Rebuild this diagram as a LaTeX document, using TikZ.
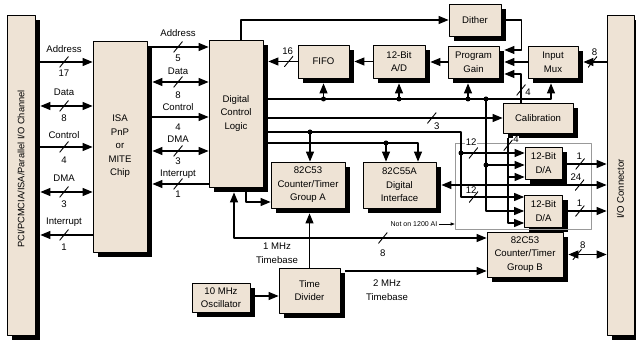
\documentclass[tikz,border=0pt]{standalone}
\usepackage{fontspec}
\setmainfont{Liberation Sans}
\usetikzlibrary{arrows.meta,backgrounds}
\definecolor{boxfill}{RGB}{238,227,213}
\tikzset{
  blk/.style={draw=black,fill=boxfill,line width=0.8bp,align=center,inner sep=0pt,
    font=\fontsize{9.6bp}{13.5bp}\selectfont},
  lbl/.style={font=\fontsize{9.6bp}{14bp}\selectfont,inner sep=0.5bp,align=center},
  busmark/.style={inner sep=0pt,minimum width=9bp,minimum height=11bp,
    path picture={\draw[-,black,shorten >=0pt,shorten <=0pt,line width=0.9bp]
      (path picture bounding box.south west) -- (path picture bounding box.north east);}},
  jdot/.style={circle,fill=black,inner sep=0pt,minimum size=5bp},
  shadowend/.style={shorten >=5bp},
  shadowstart/.style={shorten <=5bp},
}
\begin{document}
\begin{tikzpicture}[>={Triangle[length=10bp,width=8bp]},line join=bevel,line width=1.1bp]
\useasboundingbox (0bp,0bp) rectangle (636bp,340bp);
%%
\node (node_opt) at (523bp,154bp) [draw=black!40,line width=0.6bp,minimum width=136bp,minimum height=86bp,inner sep=0pt] {};
\node (node_pci) at (21bp,165bp) [blk,minimum width=28bp,minimum height=320bp] {};
\node (node_pcitxt) at (21bp,171bp) [lbl,rotate=90,font=\fontsize{9.3bp}{11bp}\selectfont] {PCI/PCMCIA/ISA/Parallel I/O Channel};
\node (node_conn) at (620.5bp,165bp) [blk,minimum width=27bp,minimum height=320bp] {};
\node (node_conntxt) at (620.5bp,151bp) [lbl,rotate=90] {I/O Connector};
\node (node_isa) at (120bp,193.5bp) [blk,minimum width=54bp,minimum height=211bp] {ISA\\PnP\\or\\MITE\\Chip};
\node (node_dcl) at (236bp,226.5bp) [blk,minimum width=54bp,minimum height=147bp] {Digital\\Control\\Logic};
\node (node_fifo) at (323.5bp,278.5bp) [blk,minimum width=51bp,minimum height=33bp] {FIFO};
\node (node_adc) at (399bp,278.5bp) [blk,minimum width=52bp,minimum height=33bp] {12-Bit\\A/D};
\node (node_dither) at (475bp,320bp) [blk,minimum width=52bp,minimum height=32bp] {Dither};
\node (node_pga) at (473.5bp,278bp) [blk,minimum width=51bp,minimum height=32bp] {Program\\Gain};
\node (node_mux) at (553bp,278bp) [blk,minimum width=50bp,minimum height=32bp] {Input\\Mux};
\node (node_cal) at (538bp,222bp) [blk,minimum width=70bp,minimum height=30bp] {Calibration};
\node (node_dac1) at (543.5bp,177bp) [blk,minimum width=37bp,minimum height=32bp] {12-Bit\\D/A};
\node (node_dac2) at (543.5bp,129bp) [blk,minimum width=38bp,minimum height=32bp] {12-Bit\\D/A};
\node (node_ctrb) at (525bp,85.5bp) [blk,minimum width=76bp,minimum height=45bp] {82C53\\Counter/Timer\\Group B};
\node (node_ctra) at (308bp,155bp) [blk,minimum width=74bp,minimum height=46bp] {82C53\\Counter/Timer\\Group A};
\node (node_ppi) at (399.5bp,155bp) [blk,minimum width=73bp,minimum height=46bp] {82C55A\\Digital\\Interface};
\node (node_div) at (309.5bp,49.5bp) [blk,minimum width=61bp,minimum height=45bp] {Time\\Divider};
\node (node_osc) at (221bp,42.5bp) [blk,minimum width=58bp,minimum height=29bp] {10 MHz\\Oscillator};
% shadows
\begin{scope}[on background layer]
\foreach \n in {node_pci,node_conn,node_isa,node_dcl,node_fifo,node_adc,node_dither,node_pga,node_mux,node_cal,node_dac1,node_dac2,node_ctrb,node_ctra,node_ppi,node_div,node_osc}
  \fill [black] ([shift={(5bp,-5bp)}]\n.south west) rectangle ([shift={(5bp,-5bp)}]\n.north east);
\end{scope}
%
\draw [black,->,shadowstart] (node_pci.east |- 0,278bp) -- node[busmark]{} node[lbl,yshift=13bp]{Address} node[lbl,yshift=-11bp]{17} (node_isa.west |- 0,278bp);
\draw [black,<->,shadowstart] (node_pci.east |- 0,234bp) -- node[busmark]{} node[lbl,yshift=14bp]{Data} node[lbl,yshift=-12bp]{8} (node_isa.west |- 0,234bp);
\draw [black,->,shadowstart] (node_pci.east |- 0,193bp) -- node[busmark]{} node[lbl,yshift=12bp]{Control} node[lbl,yshift=-13bp]{4} (node_isa.west |- 0,193bp);
\draw [black,<->,shadowstart] (node_pci.east |- 0,148bp) -- node[busmark]{} node[lbl,yshift=14bp]{DMA} node[lbl,yshift=-12bp]{3} (node_isa.west |- 0,148bp);
\draw [black,<-,shadowstart] (node_pci.east |- 0,105bp) -- node[busmark]{} node[lbl,yshift=13bp]{Interrupt} node[lbl,yshift=-12bp]{1} (node_isa.west |- 0,105bp);
%
\draw [black,->,shadowstart] (node_isa.east |- 0,293bp) -- node[busmark]{} node[lbl,yshift=14bp]{Address} node[lbl,yshift=-11bp]{5} (node_dcl.west |- 0,293bp);
\draw [black,<->,shadowstart] (node_isa.east |- 0,258bp) -- node[busmark]{} node[lbl,yshift=11bp]{Data} node[lbl,yshift=-13bp]{8} (node_dcl.west |- 0,258bp);
\draw [black,->,shadowstart] (node_isa.east |- 0,223bp) -- node[lbl,yshift=10bp]{Control} node[lbl,yshift=-10bp]{4} (node_dcl.west |- 0,223bp);
\draw [black,<->,shadowstart] (node_isa.east |- 0,189bp) -- node[busmark]{} node[lbl,yshift=12bp]{DMA} node[lbl,yshift=-10bp]{3} (node_dcl.west |- 0,189bp);
\draw [black,<-,shadowstart] (node_isa.east |- 0,156bp) -- node[busmark]{} node[lbl,yshift=10bp]{Interrupt} node[lbl,yshift=-10bp]{1} (node_dcl.west |- 0,156bp);
%
\draw [black,->] ([xshift=5bp]node_dcl.north) |- (node_dither.west);
\draw [black,->,shadowend] (node_fifo.west) -- node[busmark,pos=0.26]{} node[lbl,pos=0.29,yshift=10bp]{16} (node_dcl.east |- node_fifo.west);
\draw [black,->,shadowend] (node_adc.west) -- (node_fifo.east);
\draw [black,->,shadowend] (node_pga.west) -- (node_adc.east |- node_pga.west);
\draw [black,->,shadowend] (node_mux.west) -- (node_pga.east);
\draw [black,->,shadowend] (node_conn.west |- node_mux.west) -- node[busmark]{} node[lbl,xshift=2bp,yshift=10bp]{8} (node_mux.east);
\draw [black,->,shadowstart,shadowend] (node_dither.east) -- ++(20bp,0bp) |- (node_pga.east |- 0,290bp);
\draw [black,->,shadowend] ([xshift=-17bp]node_cal.north) |- node[busmark,pos=0.22]{} node[lbl,pos=0.22,xshift=7bp,yshift=-2bp]{4} (node_pga.east |- 0,266bp);
%
\node (node_j1) at (node_fifo.south |- 0,241bp) [jdot] {};
\node (node_j2) at (node_adc.south |- 0,241bp) [jdot] {};
\node (node_j3) at (468bp,241bp) [jdot] {};
\node (node_j4) at (486bp,241bp) [jdot] {};
\node (node_j5) at (310bp,208bp) [jdot] {};
\node (node_j6) at (461bp,187bp) [jdot] {};
\node (node_j7) at (386bp,197bp) [jdot] {};
\node (node_j8) at (486bp,175bp) [jdot] {};
\coordinate (node_k1) at (508bp,163bp);
\coordinate (node_k2) at (node_div.north |- 0,102bp);
%
\draw [black,->,shadowend] (node_dcl.east |- 0,241bp) -| ([xshift=-2bp]node_mux.south);
\draw [black,->,shadowend] (node_j1.center) -- (node_fifo.south);
\draw [black,->,shadowend] (node_j2.center) -- (node_adc.south);
\draw [black,->,shadowend] (node_j3.center) -- (node_j3 |- node_pga.south);
\draw [black,->] (node_dcl.east |- node_cal.west) -- node[busmark,pos=0.704]{} node[lbl,pos=0.725,yshift=-8bp]{3} (node_cal.west);
\draw [black,->] (node_dcl.east |- 0,208bp) -| (node_j6.center) |- node[busmark,pos=0.6]{} node[lbl,pos=0.58,yshift=7bp]{12} (node_dac2.west |- 0,143bp);
\draw [black,->] (node_j5.center) -- (node_j5 |- node_ctra.north);
\draw [black,->] (node_j6.center) -- node[busmark,pos=0.195]{} node[lbl,pos=0.16,yshift=10.5bp,fill=white]{12} (node_dac1.west |- node_j6);
\draw [black,->] (node_dcl.east |- 0,197bp) -| ([xshift=18.5bp]node_ppi.north);
\draw [black,->] (node_j7.center) -- (node_j7 |- node_ppi.north);
\draw [black,->] (node_j4.center) |- (node_dac2.west);
\draw [black,->] (node_j8.center) -- (node_dac1.west |- node_j8);
\draw [black,->,shadowstart] ([xshift=-30bp]node_cal.south) |- node[busmark,pos=0.067]{} node[lbl,pos=0.05,xshift=8bp,yshift=3bp,fill=white]{4} (node_dac2.west |- 0,117bp);
\draw [black,->] (node_k1) -- (node_dac1.west |- node_k1);
%
\draw [black,->,shadowstart] (node_dac1.east |- 0,176bp) -- node[busmark,pos=0.4]{} node[lbl,pos=0.38,yshift=8bp]{1} (node_conn.west |- 0,176bp);
\draw [black,<->,shadowstart] (node_ppi.east) -- node[busmark,pos=0.842]{} node[lbl,pos=0.82,yshift=8bp]{24} (node_conn.west |- node_ppi.east);
\draw [black,->,shadowstart] (node_dac2.east) -- node[busmark,pos=0.39]{} node[lbl,pos=0.38,yshift=8bp]{1} (node_conn.west |- node_dac2.east);
\draw [black,<->,shadowstart] (node_ctrb.east) -- node[busmark,pos=0.32]{} node[lbl,pos=0.45,yshift=9bp]{8} (node_conn.west |- node_ctrb.east);
%
\draw [black,->] ([xshift=10bp]node_dcl.south) |- (node_ctra.west |- 0,138bp);
\draw [black,->,shadowend] (node_div.north) -- (node_div.north |- node_ctra.south);
\draw [black,->] (node_k2) -- node[busmark,pos=0.414]{} node[lbl,pos=0.414,yshift=-15bp]{8} (node_ctrb.west |- node_k2);
\draw [black,->,shadowend] (node_k2) -| ([xshift=-2bp]node_dcl.south);
\draw [black,->,shadowstart] (node_div.east |- 0,69bp) -- (node_ctrb.west |- 0,69bp);
\draw [black,->,shadowstart] (node_osc.east |- 0,44bp) -- (node_div.west |- 0,44bp);
\node (node_tb1) at (277bp,87bp) [lbl] {1 MHz\\Timebase};
\node (node_tb2) at (387bp,50bp) [lbl] {2 MHz\\Timebase};
\node (node_note) at (414bp,116bp) [font=\fontsize{7bp}{8bp}\selectfont,inner sep=1bp] {Not on 1200 AI};
\draw [black,-{Triangle[length=4bp,width=3bp]},line width=0.6bp] (node_note.east) -- (node_opt.west |- node_note.east);
%
\end{tikzpicture}
\end{document}
